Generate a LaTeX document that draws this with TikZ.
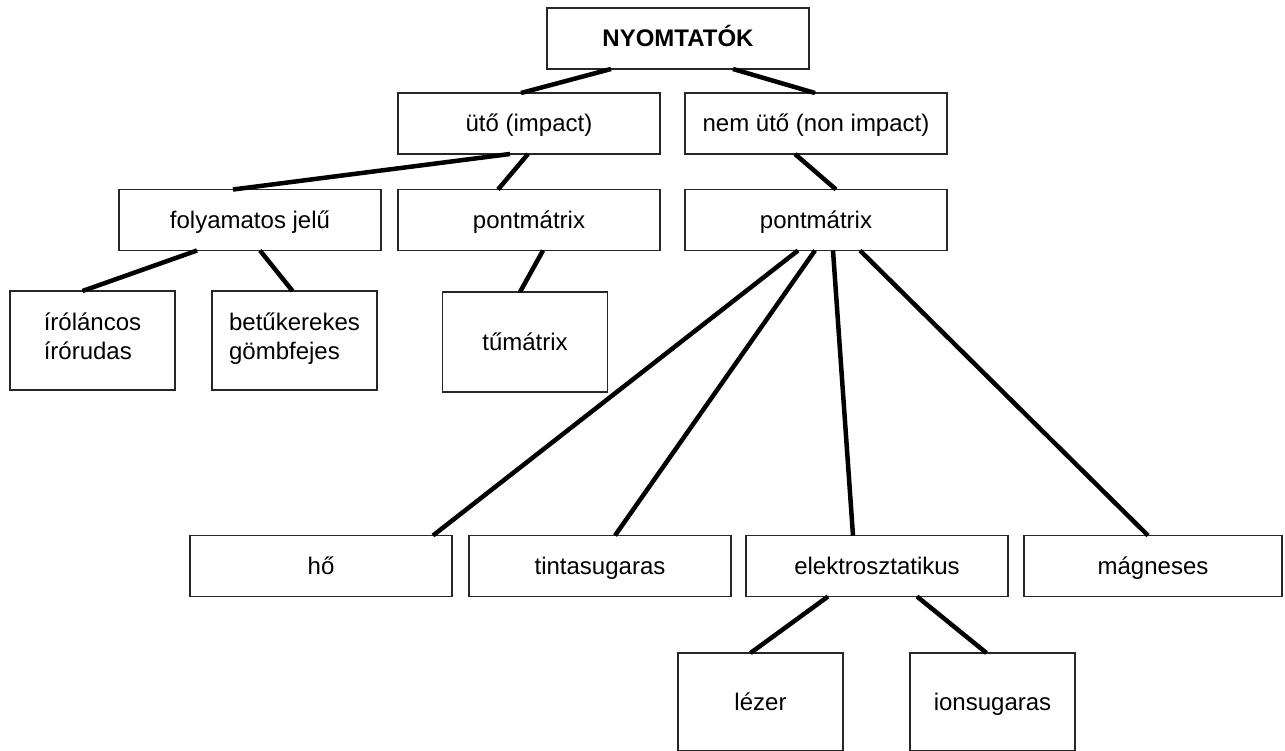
\documentclass[tikz,border=0pt]{standalone}
\usepackage{fontspec}
\setmainfont{Liberation Sans}
\usetikzlibrary{positioning}
\tikzset{
  frame/.style={draw=black!85, line width=1.2pt, fill=white, inner sep=0pt, outer sep=0pt,
    font=\fontsize{24}{29}\selectfont},
  box/.style={frame, minimum width=262pt, minimum height=61pt, align=center, text height=17pt, text depth=0pt},
  tallbox/.style={box, minimum width=165pt, minimum height=99pt},
  twoline/.style={frame, minimum width=165pt, minimum height=99pt, align=left,
    execute at begin node=\strut, execute at end node=\strut},
  edge/.style={line width=4.5pt}
}
\begin{document}
\begin{tikzpicture}[x=1pt,y=-1pt]
\useasboundingbox (0,0) rectangle (1285,751);

\node[box, font=\fontsize{24}{29}\selectfont\bfseries] (root) at (678,38.5) {NYOMTATÓK};
\node[box] (uto) at (529,123.5) {ütő (impact)};
\node[box, right=25pt of uto] (nemuto) {nem ütő (non impact)};

\node[box] (folyam) at (250,220) {folyamatos jelű};
\node[box, right=17pt of folyam] (pm1) {pontmátrix};
\node[box, right=25pt of pm1] (pm2) {pontmátrix};

\node[twoline] (iro) at (92.5,340.5) {íróláncos\\írórudas};
\node[twoline, right=37pt of iro] (betu) {betűkerekes\\gömbfejes};
\node[tallbox, minimum height=100pt] (tu) at (525,342) {tűmátrix};

\node[box] (ho) at (321,566) {hő};
\node[box, right=17pt of ho] (tinta) {tintasugaras};
\node[box, right=15pt of tinta] (elektro) {elektrosztatikus};
\node[box, minimum width=258pt, right=16pt of elektro] (magn) {mágneses};

\node[tallbox, minimum height=98pt] (lezer) at (760.5,702) {lézer};
\node[tallbox, minimum height=98pt, right=67pt of lezer] (ion) {ionsugaras};

\draw[edge] ([xshift=-67pt]root.south) -- ([xshift=-8pt]uto.north);
\draw[edge] ([xshift=55pt]root.south) -- ([xshift=-1pt]nemuto.north);
\draw[edge] ([xshift=-19pt]uto.south) -- ([xshift=-17pt]folyam.north);
\draw[edge] ([xshift=-1pt]uto.south) -- ([xshift=-31pt]pm1.north);
\draw[edge] ([xshift=-21pt]nemuto.south) -- ([xshift=20pt]pm2.north);
\draw[edge] ([xshift=-53pt]folyam.south) -- ([xshift=-10pt]iro.north);
\draw[edge] ([xshift=10pt]folyam.south) -- ([xshift=-2pt]betu.north);
\draw[edge] ([xshift=14pt]pm1.south) -- ([xshift=-5pt]tu.north);
\draw[edge] ([xshift=-18pt]pm2.south) -- ([xshift=112pt]ho.north);
\draw[edge] ([xshift=-1pt]pm2.south) -- ([xshift=15pt]tinta.north);
\draw[edge] ([xshift=17pt]pm2.south) -- ([xshift=-24pt]elektro.north);
\draw[edge] ([xshift=44pt]pm2.south) -- ([xshift=-5pt]magn.north);
\draw[edge] ([xshift=-49pt]elektro.south) -- ([xshift=-10pt]lezer.north);
\draw[edge] ([xshift=40pt]elektro.south) -- ([xshift=-6pt]ion.north);
\end{tikzpicture}
\end{document}
